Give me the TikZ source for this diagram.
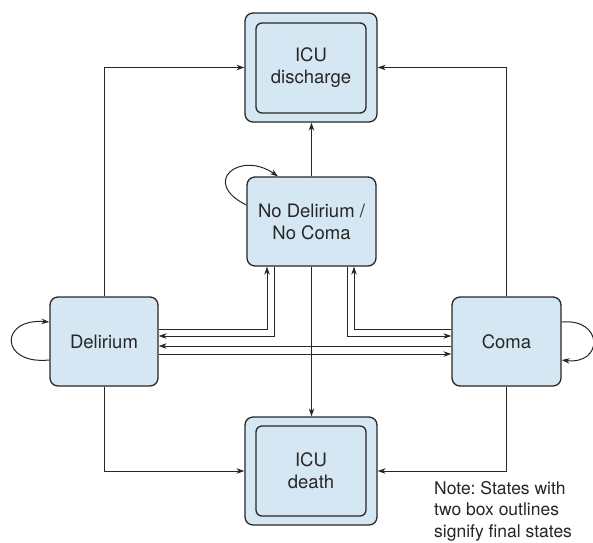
\documentclass[tikz,border=0pt]{standalone}
\usepackage{fontspec}
\setmainfont{TeX Gyre Heros}
\usetikzlibrary{arrows.meta}
\definecolor{boxfill}{HTML}{D5E7F3}
\definecolor{ink}{HTML}{262626}
\frenchspacing
\begin{document}
\begin{tikzpicture}[x=1pt,y=-1pt,
  state/.style={draw=ink,fill=boxfill,line width=1.3pt,rounded corners=8pt,align=center,text=ink,font=\fontsize{18.5}{22}\selectfont,inner sep=0pt},
  innerbox/.style={draw=ink,line width=1.3pt,rounded corners=6pt,minimum width=110pt,minimum height=90pt,align=center,text=ink,font=\fontsize{18.5}{22}\selectfont,inner sep=0pt},
  arr/.style={draw=ink,line width=1pt,-{Stealth[length=8pt,width=5.5pt]}}]
\useasboundingbox (0,0) rectangle (593,542);
% final states
\node[state,minimum width=132pt,minimum height=109pt] (disch) at (311,67.5) {};
\node[innerbox] (dischin) at (311,68) {ICU\\discharge};
\node[state,minimum width=132pt,minimum height=108pt] (death) at (311,471) {};
\node[innerbox] (deathin) at (311,471) {ICU\\death};
% transient states
\node[state,minimum width=129pt,minimum height=89pt] (nodel) at (311.5,221.5) {No Delirium /\\No Coma};
\node[state,minimum width=108pt,minimum height=89pt] (del) at (104,341.5) {Delirium};
\node[state,minimum width=109pt,minimum height=89pt] (coma) at (506.5,341.5) {Coma};
% to ICU discharge
\draw[arr] (del.north) |- (disch.west);
\draw[arr] (coma.north) |- (disch.east);
\draw[arr] (nodel.north) -- (nodel.north |- disch.south);
% to ICU death
\draw[arr] (nodel.south) -- (nodel.south |- death.north);
\draw[arr] (del.south) |- (death.west);
\draw[arr] (coma.south) |- (death.east);
% Delirium <-> No Delirium
\draw[arr] ([yshift=12.5pt]del.east) -| ([xshift=-44.5pt]nodel.south);
\draw[arr] ([xshift=-37.5pt]nodel.south) |- ([yshift=5.5pt]del.east);
% Coma <-> No Delirium
\draw[arr] ([yshift=12.5pt]coma.west) -| ([xshift=42.5pt]nodel.south);
\draw[arr] ([xshift=35.5pt]nodel.south) |- ([yshift=5.5pt]coma.west);
% Delirium <-> Coma
\draw[arr] ([yshift=-4.5pt]coma.west) -- ([yshift=-4.5pt]del.east);
\draw[arr] ([yshift=-12.5pt]del.east) -- ([yshift=-12.5pt]coma.west);
% self loops
\draw[arr] ([yshift=-18.5pt]del.west) .. controls +(-50,5) and +(-50,-4) .. ([yshift=19.5pt]del.west);
\draw[arr] ([yshift=19.5pt]coma.east) .. controls +(42,-4) and +(42,5) .. ([yshift=-18.5pt]coma.east);
\draw[arr] ([yshift=16.5pt]nodel.west) .. controls (200,182) and (240,150) .. ([xshift=-33.5pt]nodel.north);
% note
\node[anchor=north west,align=left,text=ink,font=\fontsize{17.5}{21.5}\selectfont,inner sep=0pt] (note) at (434,481) {Note: States with\\two box outlines\\signify final states};
\end{tikzpicture}
\end{document}
